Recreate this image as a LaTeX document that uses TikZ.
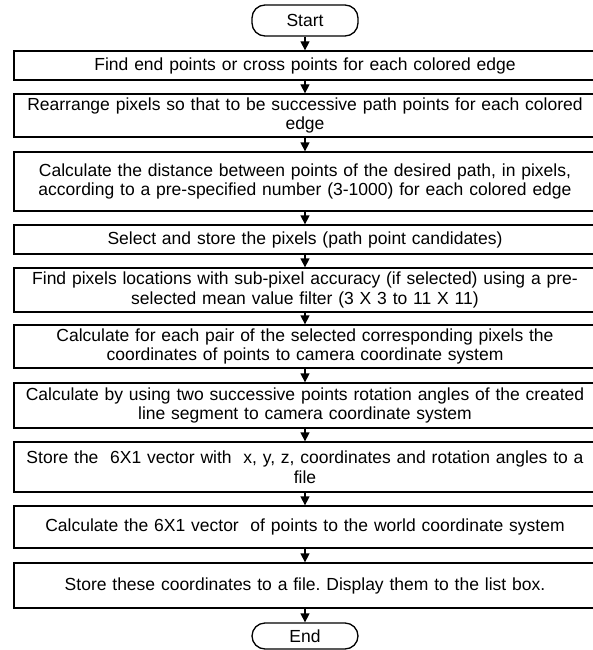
\documentclass[tikz,border=0pt]{standalone}
\usepackage{fontspec}
\setmainfont{Liberation Sans}
\usetikzlibrary{arrows.meta}
\frenchspacing

\tikzset{
  stepbox/.style={draw, line width=1.3pt, minimum width=582pt, text width=572pt,
    inner xsep=5pt, inner ysep=0pt, align=center},
  terminal/.style={draw, line width=1.3pt, rounded corners=13pt, minimum width=106pt,
    inner sep=0pt},
  arr/.style={line width=1.3pt, -{Triangle[width=9pt,length=9pt]}}
}

\begin{document}
\begin{tikzpicture}[x=1pt, y=-1pt, every node/.style={font=\fontsize{17.5}{19.5}\selectfont}]
  \useasboundingbox (0,0) rectangle (592,650);

  % start and end
  \node[terminal, minimum height=31pt] (start) at (305,20.5) {Start};
  \node[terminal, minimum height=26pt] (end) at (305,636) {End};

  % steps
  \node[stepbox, minimum height=29pt] (find) at (305,65.5)
    {Find end points or cross points for each colored edge};
  \node[stepbox, minimum height=43pt] (rearrange) at (305,115.5)
    {Rearrange pixels so that to be successive path points for each colored\\edge};
  \node[stepbox, minimum height=59pt] (distance) at (305,181.5)
    {Calculate the distance between points of the desired path, in pixels,\\according to a pre-specified number (3-1000) for each colored edge};
  \node[stepbox, minimum height=29pt] (select) at (305,239.5)
    {Select and store the pixels (path point candidates)};
  \node[stepbox, minimum height=44pt] (subpixel) at (305,290)
    {Find pixels locations with sub-pixel accuracy (if selected) using a pre-\\selected mean value filter (3 X 3 to 11 X 11)};
  \node[stepbox, minimum height=43pt] (pairs) at (305,346.5)
    {Calculate for each pair of the selected corresponding pixels the\\coordinates of points to camera coordinate system};
  \node[stepbox, minimum height=45pt] (angles) at (305,405.5)
    {Calculate by using two successive points rotation angles of the created\\line segment to camera coordinate system};
  \node[stepbox, minimum height=50pt] (storevec) at (305,467)
    {Store the~ 6X1 vector with~ x, y, z, coordinates and rotation angles to a\\file};
  \node[stepbox, minimum height=42pt] (world) at (305,527)
    {Calculate the 6X1 vector~ of points to the world coordinate system};
  \node[stepbox, minimum height=45pt] (display) at (305,585.5)
    {Store these coordinates to a file. Display them to the list box.};

  % arrows
  \draw[arr] (start) -- (find);
  \draw[arr] (find) -- (rearrange);
  \draw[arr] (rearrange) -- (distance);
  \draw[arr] (distance) -- (select);
  \draw[arr] (select) -- (subpixel);
  \draw[arr] (subpixel) -- (pairs);
  \draw[arr] (pairs) -- (angles);
  \draw[arr] (angles) -- (storevec);
  \draw[arr] (storevec) -- (world);
  \draw[arr] (world) -- (display);
  \draw[arr] (display) -- (end);
\end{tikzpicture}
\end{document}
